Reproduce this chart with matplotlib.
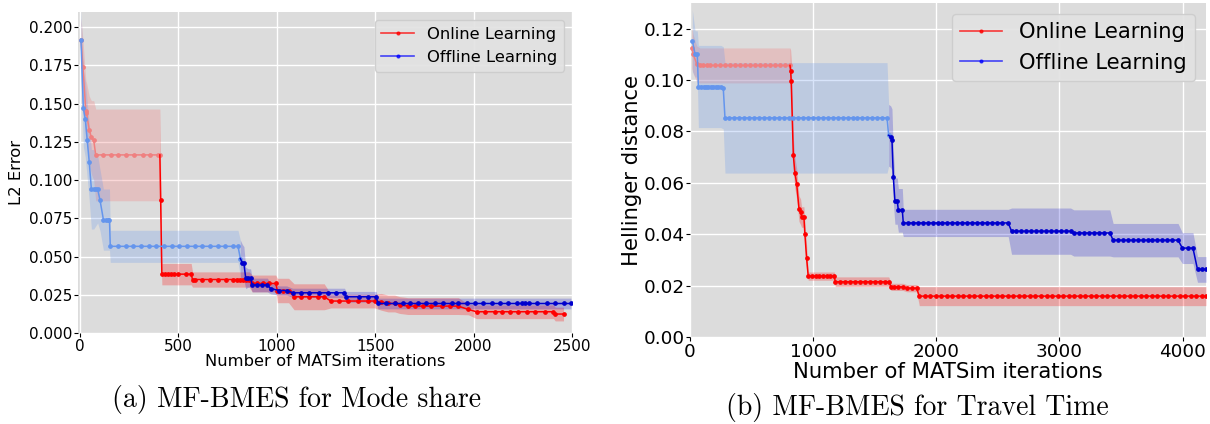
import numpy as np
import matplotlib.pyplot as plt
from matplotlib.lines import Line2D

plt.rcParams['font.family'] = 'DejaVu Sans'

# ---- (a) mode share, L2 error -------------------------------------------
# online learning, low fidelity then high fidelity evaluations
a_on_lo_x = [5, 15, 30, 33, 47, 58, 70, 80, 117, 156, 195, 236, 277, 318, 358, 398, 406]
a_on_lo_y = [0.192, 0.174, 0.145, 0.144, 0.133, 0.128, 0.126, 0.1165, 0.1165, 0.1165,
             0.1165, 0.1165, 0.1165, 0.1165, 0.1165, 0.1165, 0.1165]
a_on_lo_s = [0.014, 0.018, 0.02, 0.02, 0.022, 0.024, 0.026, 0.03, 0.03, 0.03,
             0.03, 0.03, 0.03, 0.03, 0.03, 0.03, 0.03]

a_on_hi_x = [410, 416, 430, 445, 460, 480, 500, 540, 565,
             572, 583, 620, 660, 700, 740, 780, 800, 815, 830, 845, 860,
             875, 900, 930, 960, 995, 1003, 1030, 1060,
             1088, 1122, 1165, 1207, 1241, 1275, 1318, 1360, 1411, 1463, 1497,
             1531, 1565, 1599, 1624, 1667, 1701, 1743, 1786, 1837, 1879, 1922, 1973,
             2015, 2058, 2109, 2143, 2185, 2228, 2270, 2313, 2364, 2406, 2415, 2457]
a_on_hi_y = [0.087, 0.0385, 0.0385, 0.0385, 0.0385, 0.0385, 0.0385, 0.0385, 0.0385,
             0.035, 0.035, 0.035, 0.035, 0.035, 0.035, 0.035, 0.035, 0.035, 0.035, 0.035, 0.035,
             0.0324, 0.0324, 0.0324, 0.0324, 0.0324, 0.0278, 0.0278, 0.0278,
             0.0237, 0.0237, 0.0237, 0.0237, 0.0237, 0.0209, 0.0209, 0.0209, 0.0209, 0.0209, 0.0209,
             0.0204, 0.0193, 0.0193, 0.0183, 0.0176, 0.0176, 0.0176, 0.0176, 0.0176, 0.0176, 0.0176, 0.0154,
             0.0139, 0.0139, 0.0139, 0.0139, 0.0139, 0.0139, 0.0139, 0.0139, 0.0139, 0.0139, 0.0124, 0.0124]
a_on_hi_s = [0.02, 0.007, 0.007, 0.007, 0.007, 0.007, 0.007, 0.007, 0.007,
             0.005, 0.005, 0.005, 0.005, 0.005, 0.005, 0.005, 0.005, 0.005, 0.005, 0.005, 0.005,
             0.0055, 0.0055, 0.0055, 0.0055, 0.0055, 0.008, 0.008, 0.008,
             0.0085, 0.0085, 0.0085, 0.0085, 0.0085, 0.0045, 0.0045, 0.0045, 0.0045, 0.0045, 0.0045,
             0.0055, 0.0055, 0.0055, 0.0055, 0.0055, 0.0055, 0.0055, 0.0055, 0.0055, 0.0055, 0.0055, 0.0035,
             0.0045, 0.0045, 0.0045, 0.0045, 0.0045, 0.0045, 0.0045, 0.0045, 0.0045, 0.0045, 0.0045, 0.0045]

# offline learning
a_off_lo_x = [5, 17, 27, 37, 47, 58, 70, 80, 90, 102, 119, 130, 140, 150,
              154, 193, 232, 271, 310, 349, 388, 427, 466, 505, 544, 583, 622, 661, 700, 739, 778, 803, 815]
a_off_lo_y = [0.192, 0.147, 0.140, 0.126, 0.112, 0.094, 0.094, 0.094, 0.094, 0.0868, 0.0742, 0.0742, 0.0742, 0.0742,
              0.0567, 0.0567, 0.0567, 0.0567, 0.0567, 0.0567, 0.0567, 0.0567, 0.0567, 0.0567, 0.0567, 0.0567,
              0.0567, 0.0567, 0.0567, 0.0567, 0.0567, 0.0567, 0.0487]
a_off_lo_s = [0.02, 0.025, 0.025, 0.025, 0.025, 0.026, 0.026, 0.024, 0.022, 0.02, 0.02, 0.02, 0.02, 0.02,
              0.0105, 0.0105, 0.0105, 0.0105, 0.0105, 0.0105, 0.0105, 0.0105, 0.0105, 0.0105, 0.0105, 0.0105,
              0.0105, 0.0105, 0.0105, 0.0105, 0.0105, 0.0105, 0.012]

a_off_hi_x = [825, 833, 842, 855, 867, 875, 900, 925, 952, 969, 1012, 1050,
              1080, 1122, 1165, 1216, 1258, 1301, 1344, 1352, 1420, 1463, 1505,
              1514, 1556, 1599, 1641, 1675, 1718, 1760, 1803, 1845, 1888, 1922, 1964, 2007,
              2049, 2092, 2134, 2177, 2219, 2245, 2262, 2279, 2321, 2372, 2415, 2457, 2495]
a_off_hi_y = [0.046, 0.0455, 0.036, 0.036, 0.036, 0.0314, 0.0314, 0.0314, 0.0314, 0.0291, 0.0278, 0.0278,
              0.0263, 0.0263, 0.0263, 0.0263, 0.0263, 0.0263, 0.0263, 0.0237, 0.0237, 0.0237, 0.0237,
              0.0193, 0.0193, 0.0193, 0.0193, 0.0193, 0.0193, 0.0193, 0.0193, 0.0193, 0.0193, 0.0193, 0.0193, 0.0193,
              0.0193, 0.0193, 0.0193, 0.0193, 0.0193, 0.0193, 0.0193, 0.0193, 0.0193, 0.0193, 0.0193, 0.0193, 0.0193]
a_off_hi_s = [0.012, 0.011, 0.007, 0.006, 0.006, 0.0045, 0.0045, 0.0045, 0.0045, 0.0035, 0.003, 0.003,
              0.003, 0.003, 0.003, 0.003, 0.003, 0.003, 0.003, 0.0035, 0.0035, 0.0035, 0.0035,
              0.0035, 0.0035, 0.0035, 0.0035, 0.0035, 0.0035, 0.0035, 0.0035, 0.0035, 0.0035, 0.0035, 0.0035, 0.0035,
              0.0035, 0.0035, 0.0035, 0.0035, 0.0035, 0.0035, 0.0035, 0.0035, 0.0035, 0.0035, 0.0035, 0.0035, 0.0035]

# ---- (b) travel time, Hellinger distance --------------------------------
b_on_lo_x = [15, 27, 54, 81, 108, 135, 162, 203, 244, 284, 325, 365, 406, 446, 487,
             528, 568, 609, 649, 690, 731, 771, 812]
b_on_lo_y = [0.1125, 0.110, 0.1063, 0.1057, 0.1057, 0.1057, 0.1057, 0.1057, 0.1057, 0.1057,
             0.1057, 0.1057, 0.1057, 0.1057, 0.1057, 0.1057, 0.1057, 0.1057, 0.1057, 0.1057,
             0.1057, 0.1057, 0.1057]
b_on_lo_s = [0.008, 0.0075, 0.007, 0.0068, 0.0068, 0.0068, 0.0068, 0.0068, 0.0068, 0.0068,
             0.0068, 0.0068, 0.0068, 0.0068, 0.0068, 0.0068, 0.0068, 0.0068, 0.0068, 0.0068,
             0.0068, 0.0068, 0.0068]

b_on_hi_x = [817, 822, 839, 852, 866, 885, 898, 906, 925, 933, 947,
             960, 990, 1020, 1050, 1080, 1110, 1140, 1171,
             1180, 1220, 1260, 1300, 1340, 1380, 1420, 1460, 1500, 1540, 1580, 1614,
             1633, 1660, 1690, 1730, 1760, 1800, 1840,
             1862, 1905, 1950, 1995, 2040, 2085, 2130, 2175, 2220, 2265, 2310, 2355, 2400,
             2445, 2490, 2535, 2580, 2625, 2670, 2715, 2760, 2805, 2850, 2895, 2940, 2985,
             3030, 3075, 3120, 3165, 3210, 3255, 3300, 3345, 3390, 3435, 3480, 3525, 3570,
             3615, 3660, 3705, 3750, 3795, 3840, 3885, 3930, 3975, 4020, 4065, 4110, 4155, 4190]
b_on_hi_y = [0.1037, 0.0995, 0.0707, 0.0638, 0.0597, 0.050, 0.0487, 0.0467, 0.0467, 0.040, 0.0306,
             0.0237, 0.0237, 0.0237, 0.0237, 0.0237, 0.0237, 0.0237, 0.0237,
             0.0215, 0.0215, 0.0215, 0.0215, 0.0215, 0.0215, 0.0215, 0.0215, 0.0215, 0.0215, 0.0215, 0.0215,
             0.0195, 0.0195, 0.0195, 0.0195, 0.0190, 0.0190, 0.0190,
             0.0159, 0.0159, 0.0159, 0.0159, 0.0159, 0.0159, 0.0159, 0.0159, 0.0159, 0.0159, 0.0159, 0.0159, 0.0159,
             0.0159, 0.0159, 0.0159, 0.0159, 0.0159, 0.0159, 0.0159, 0.0159, 0.0159, 0.0159, 0.0159, 0.0159, 0.0159,
             0.0159, 0.0159, 0.0159, 0.0159, 0.0159, 0.0159, 0.0159, 0.0159, 0.0159, 0.0159, 0.0159, 0.0159, 0.0159,
             0.0159, 0.0159, 0.0159, 0.0159, 0.0159, 0.0159, 0.0159, 0.0159, 0.0159, 0.0159, 0.0159, 0.0159, 0.0159, 0.0159]
b_on_hi_s = [0.008, 0.008, 0.007, 0.006, 0.006, 0.005, 0.005, 0.004, 0.004, 0.005, 0.005,
             0.0016, 0.0016, 0.0016, 0.0016, 0.0016, 0.0016, 0.0016, 0.0016,
             0.0019, 0.0019, 0.0019, 0.0019, 0.0019, 0.0019, 0.0019, 0.0019, 0.0019, 0.0019, 0.0019, 0.0019,
             0.0014, 0.0014, 0.0014, 0.0014, 0.0014, 0.0014, 0.0014,
             0.0037, 0.0037, 0.0037, 0.0037, 0.0037, 0.0037, 0.0037, 0.0037, 0.0037, 0.0037, 0.0037, 0.0037, 0.0037,
             0.0037, 0.0037, 0.0037, 0.0037, 0.0037, 0.0037, 0.0037, 0.0037, 0.0037, 0.0037, 0.0037, 0.0037, 0.0037,
             0.0037, 0.0037, 0.0037, 0.0037, 0.0037, 0.0037, 0.0037, 0.0037, 0.0037, 0.0037, 0.0037, 0.0037, 0.0037,
             0.0037, 0.0037, 0.0037, 0.0037, 0.0037, 0.0037, 0.0037, 0.0037, 0.0037, 0.0037, 0.0037, 0.0037, 0.0037, 0.0037]

b_off_lo_x = [19, 41, 59, 68, 90, 110, 130, 150, 170, 190, 210, 230, 250, 270,
              284, 320, 360, 400, 440, 480, 520, 560, 600, 640, 680, 720, 760, 800, 840, 880, 920,
              960, 1000, 1040, 1080, 1120, 1160, 1200, 1240, 1280, 1320, 1360, 1400, 1440, 1480,
              1520, 1560, 1600, 1613]
b_off_lo_y = [0.1153, 0.1102, 0.1102, 0.0975, 0.0975, 0.0975, 0.0975, 0.0975, 0.0975, 0.0975, 0.0975, 0.0975,
              0.0975, 0.097,
              0.0853, 0.0853, 0.0853, 0.0853, 0.0853, 0.0853, 0.0853, 0.0853, 0.0853, 0.0853, 0.0853,
              0.0853, 0.0853, 0.0853, 0.0853, 0.0853, 0.0853, 0.0853, 0.0853, 0.0853, 0.0853, 0.0853,
              0.0853, 0.0853, 0.0853, 0.0853, 0.0853, 0.0853, 0.0853, 0.0853, 0.0853, 0.0853, 0.0853,
              0.0853, 0.0785]
b_off_lo_s = [0.012, 0.009, 0.009, 0.016, 0.016, 0.016, 0.016, 0.016, 0.016, 0.016, 0.016, 0.016,
              0.016, 0.016,
              0.0215, 0.0215, 0.0215, 0.0215, 0.0215, 0.0215, 0.0215, 0.0215, 0.0215, 0.0215, 0.0215,
              0.0215, 0.0215, 0.0215, 0.0215, 0.0215, 0.0215, 0.0215, 0.0215, 0.0215, 0.0215, 0.0215,
              0.0215, 0.0215, 0.0215, 0.0215, 0.0215, 0.0215, 0.0215, 0.0215, 0.0215, 0.0215, 0.0215,
              0.0215, 0.012]

b_off_hi_x = [1629, 1640, 1651, 1664, 1683, 1692, 1724,
              1732, 1770, 1810, 1850, 1890, 1930, 1970, 2010, 2050, 2090, 2130, 2170, 2210, 2250,
              2290, 2330, 2370, 2410, 2450, 2490, 2530, 2584,
              2611, 2650, 2690, 2730, 2770, 2810, 2850, 2890, 2930, 2970, 3010, 3050, 3090,
              3117, 3160, 3200, 3240, 3280, 3320, 3360, 3409,
              3436, 3475, 3515, 3555, 3595, 3635, 3675, 3715, 3755, 3795, 3835, 3875, 3915, 3963,
              3998, 4040, 4084, 4121, 4160, 4190]
b_off_hi_y = [0.078, 0.0768, 0.0623, 0.0529, 0.0529, 0.0493, 0.0493,
              0.0444, 0.0444, 0.0444, 0.0444, 0.0444, 0.0444, 0.0444, 0.0444, 0.0444, 0.0444, 0.0444,
              0.0444, 0.0444, 0.0444, 0.0444, 0.0444, 0.0444, 0.0444, 0.0444, 0.0444, 0.0444, 0.0444,
              0.0412, 0.0412, 0.0412, 0.0412, 0.0412, 0.0412, 0.0412, 0.0412, 0.0412, 0.0412, 0.0412,
              0.0412, 0.0412,
              0.0405, 0.0405, 0.0405, 0.0405, 0.0405, 0.0405, 0.0405, 0.0405,
              0.0377, 0.0377, 0.0377, 0.0377, 0.0377, 0.0377, 0.0377, 0.0377, 0.0377, 0.0377, 0.0377,
              0.0377, 0.0377, 0.0377,
              0.0346, 0.0346, 0.0346, 0.0263, 0.0263, 0.0263]
b_off_hi_s = [0.012, 0.012, 0.01, 0.009, 0.009, 0.0085, 0.0085,
              0.0053, 0.0053, 0.0053, 0.0053, 0.0053, 0.0053, 0.0053, 0.0053, 0.0053, 0.0053, 0.0053,
              0.0053, 0.0053, 0.0053, 0.0053, 0.0053, 0.0053, 0.0053, 0.0053, 0.0053, 0.0053, 0.0053,
              0.009, 0.009, 0.009, 0.009, 0.009, 0.009, 0.009, 0.009, 0.009, 0.009, 0.009, 0.009, 0.009,
              0.009, 0.009, 0.009, 0.009, 0.009, 0.009, 0.009, 0.009,
              0.0065, 0.0065, 0.0065, 0.0065, 0.0065, 0.0065, 0.0065, 0.0065, 0.0065, 0.0065, 0.0065,
              0.0065, 0.0065, 0.0065,
              0.006, 0.006, 0.006, 0.005, 0.005, 0.005]

BG = '#dcdcdc'


def draw_run(ax, lo, hi, lo_col, hi_col, ms, band_lo=0.3, band_hi=0.25):
    lx, ly, ls = (np.asarray(v, float) for v in lo)
    hx, hy, hs = (np.asarray(v, float) for v in hi)
    # high-fidelity part joins on to the last low-fidelity point
    jx = np.r_[lx[-1], hx]
    jy = np.r_[ly[-1], hy]
    js = np.r_[ls[-1], hs]
    ax.fill_between(lx, ly - ls, ly + ls, color=lo_col, alpha=band_lo, lw=0)
    ax.fill_between(jx, jy - js, jy + js, color=hi_col, alpha=band_hi, lw=0)
    ax.plot(lx, ly, color=lo_col, lw=1.1, marker='o', ms=ms, zorder=3)
    ax.plot(jx, jy, color=hi_col, lw=1.1, marker='o', ms=ms,
            markevery=slice(1, None), zorder=3)


def style(ax, fs):
    ax.set_facecolor(BG)
    ax.grid(True, color='white', lw=1.0)
    ax.set_axisbelow(True)
    for sp in ax.spines.values():
        sp.set_visible(False)
    ax.tick_params(labelsize=fs, length=3, width=0.8, pad=1)


fig = plt.figure(figsize=(12.1, 4.24), dpi=100)
ax1 = fig.add_axes([78 / 1210, 1 - 333 / 424, 494 / 1210, 321 / 424])
ax2 = fig.add_axes([690 / 1210, 1 - 337 / 424, 516 / 1210, 334 / 424])

# (a)
style(ax1, 11)
draw_run(ax1, (a_on_lo_x, a_on_lo_y, a_on_lo_s), (a_on_hi_x, a_on_hi_y, a_on_hi_s),
         'lightcoral', 'red', 2.4)
draw_run(ax1, (a_off_lo_x, a_off_lo_y, a_off_lo_s), (a_off_hi_x, a_off_hi_y, a_off_hi_s),
         'cornflowerblue', 'mediumblue', 2.4, band_lo=0.25, band_hi=0.22)
ax1.set_xlim(-10, 2500)
ax1.set_ylim(0, 0.21)
ax1.set_xticks([0, 500, 1000, 1500, 2000, 2500])
ax1.set_yticks(np.arange(0, 0.201, 0.025))
ax1.yaxis.set_major_formatter(plt.FormatStrFormatter('%.3f'))
ax1.set_xlabel('Number of MATSim iterations', fontsize=11.8, va='center')
ax1.xaxis.set_label_coords(0.5, -0.09)
ax1.set_ylabel('L2 Error', fontsize=11.8, va='center')
ax1.yaxis.set_label_coords(-0.1235, 0.5)

# (b)
style(ax2, 13.2)
draw_run(ax2, (b_on_lo_x, b_on_lo_y, b_on_lo_s), (b_on_hi_x, b_on_hi_y, b_on_hi_s),
         'lightcoral', 'red', 2.4)
draw_run(ax2, (b_off_lo_x, b_off_lo_y, b_off_lo_s), (b_off_hi_x, b_off_hi_y, b_off_hi_s),
         'cornflowerblue', 'mediumblue', 2.4, band_lo=0.25, band_hi=0.22)
ax2.set_xlim(0, 4190)
ax2.set_ylim(0, 0.13)
ax2.set_xticks([0, 1000, 2000, 3000, 4000])
ax2.set_yticks(np.arange(0, 0.121, 0.02))
ax2.yaxis.set_major_formatter(plt.FormatStrFormatter('%.2f'))
ax2.set_xlabel('Number of MATSim iterations', fontsize=15.2, va='center')
ax2.xaxis.set_label_coords(0.5, -0.106)
ax2.set_ylabel('Hellinger distance', fontsize=15.2, va='center')
ax2.yaxis.set_label_coords(-0.112, 0.5)

for ax, fs in ((ax1, 11.8), (ax2, 15.2)):
    handles = [Line2D([], [], color='red', lw=1.2, marker='o', ms=2, alpha=0.75),
               Line2D([], [], color='blue', lw=1.2, marker='o', ms=2, alpha=0.7)]
    ax.legend(handles, ['Online Learning', 'Offline Learning'], loc='upper right',
              fontsize=fs, facecolor='#e2e2e2', edgecolor='#cccccc', framealpha=0.9)

fig.text(296 / 1210, 1 - 400 / 424, '(a) MF-BMES for Mode share', family='cmr10',
         fontsize=20, ha='center', va='center')
fig.text(917 / 1210, 1 - 408 / 424, '(b) MF-BMES for Travel Time', family='cmr10',
         fontsize=20, ha='center', va='center')

fig.savefig('out.png', dpi=100)
